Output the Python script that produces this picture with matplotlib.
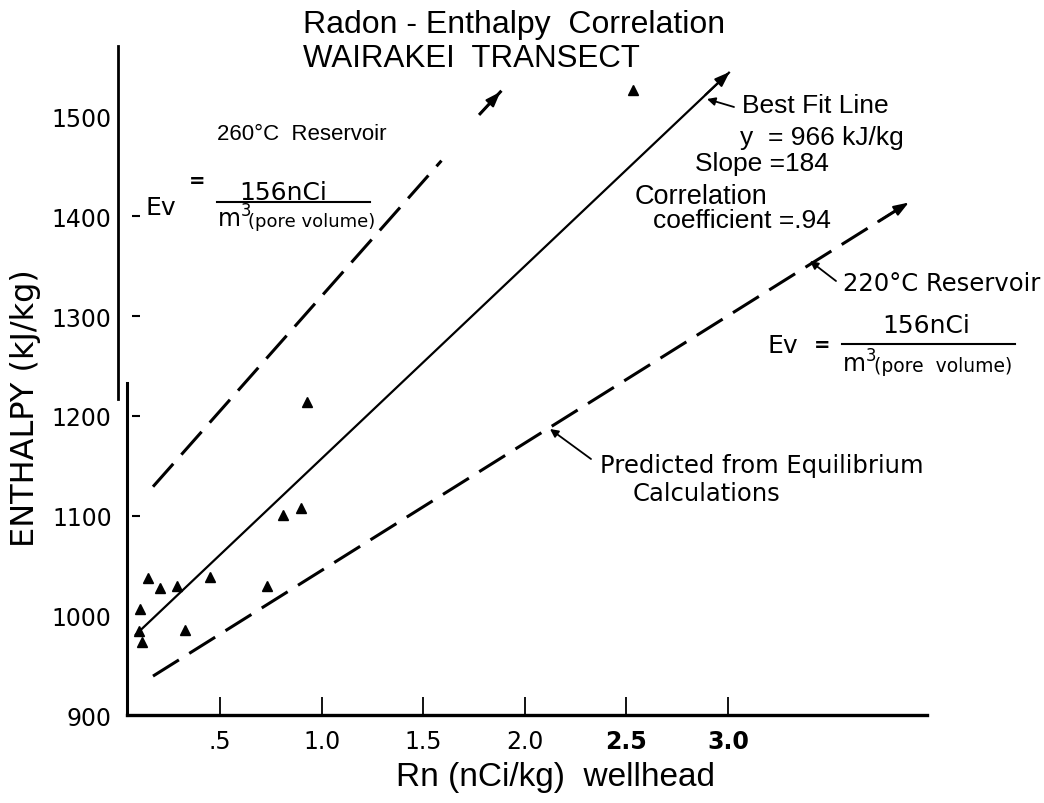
import matplotlib
matplotlib.use("Agg")
import matplotlib.pyplot as plt
from matplotlib.lines import Line2D
from matplotlib.transforms import blended_transform_factory

# measured wells (Rn nCi/kg, enthalpy kJ/kg)
rn = [0.146, 0.205, 0.288, 0.451, 0.106, 0.101, 0.116, 0.328, 0.731, 0.810, 0.898, 0.928, 2.532]
enth = [1037, 1027, 1029, 1038, 1006, 984, 973, 985, 1029, 1101, 1108, 1214, 1527]

# best fit line
fit_x = [0.082, 3.009]
fit_y = [980, 1545]
# 260 C reservoir (dashed, with separate arrow piece)
hot_x = [0.17, 1.59]
hot_y = [1129, 1456]
hot_tip_x = [1.78, 1.88]
hot_tip_y = [1503, 1525]
# 220 C reservoir
cool_x = [0.17, 3.89]
cool_y = [939, 1414]

xticks = [0.5, 1.0, 1.5, 2.0, 2.5, 3.0]
xlabels = [".5", "1.0", "1.5", "2.0", "2.5", "3.0"]
yticks = [900, 1000, 1100, 1200, 1300, 1400, 1500]
ymarks = [1100, 1200, 1300, 1400]

W, H = 1044, 804
fig = plt.figure(figsize=(W / 100, H / 100), dpi=100)
ax = fig.add_axes([127 / W, 1 - 716 / H, 800 / W, 669 / H])
ax.set_xlim(0.042, 3.98)
ax.set_ylim(903, 1571)

def px(x, y):
    return (x / W, 1 - y / H)

SANS = "Liberation Sans"
LET = "DejaVu Sans"

# lines
ax.plot(fit_x, fit_y, color="k", lw=1.6, solid_capstyle="butt")
ax.plot(hot_x, hot_y, color="k", lw=2.2, dashes=(10, 4))
ax.plot(hot_tip_x, hot_tip_y, color="k", lw=2.2)
ax.plot(cool_x, cool_y, color="k", lw=2.2, dashes=(10, 4))

arrow = dict(arrowstyle="-|>,head_length=0.5,head_width=0.18", color="k", lw=1.5,
             mutation_scale=18, shrinkA=0, shrinkB=0)
ax.annotate("", xy=(fit_x[1], fit_y[1]), xytext=(fit_x[1] - 0.12, fit_y[1] - 23), arrowprops=arrow)
ax.annotate("", xy=(hot_tip_x[1], hot_tip_y[1]), xytext=(hot_tip_x[0], hot_tip_y[0]), arrowprops=arrow)
ax.annotate("", xy=(cool_x[1], cool_y[1]), xytext=(cool_x[1] - 0.15, cool_y[1] - 19), arrowprops=arrow)

ax.plot(rn, enth, linestyle="none", marker="^", color="k", markersize=7.5)

# axes styling
for s in ["top", "right", "left"]:
    ax.spines[s].set_visible(False)
ax.spines["bottom"].set_linewidth(2.4)
ax.set_xticks(xticks, xlabels)
ax.tick_params(axis="x", direction="in", length=13, width=1.3, pad=10, labelsize=17)
for lab in ax.get_xticklabels():
    lab.set_family(LET)
    if lab.get_text() in ("2.5", "3.0"):
        lab.set_fontweight("bold")
ax.set_yticks(yticks, [str(v) for v in yticks])
ax.tick_params(axis="y", length=0, pad=11, labelsize=17)
for lab in ax.get_yticklabels():
    lab.set_family(LET)

# broken y axis (two offset pieces as in the scan)
ax.add_line(Line2D([0, 0], [0, 0.497], transform=ax.transAxes, color="k", lw=2.2, clip_on=False))
ax.add_line(Line2D([-0.011, -0.011], [0.472, 1.0], transform=ax.transAxes, color="k", lw=2.0, clip_on=False))
tr = blended_transform_factory(ax.transAxes, ax.transData)
ax.plot([0.011] * len(ymarks), ymarks, linestyle="none", marker="_", color="k",
        markersize=6, markeredgewidth=1.5, transform=tr, clip_on=False)

# titles
fig.text(*px(303, 25), "Radon - Enthalpy  Correlation", family=SANS, fontsize=23, va="center")
fig.text(*px(303, 59), "WAIRAKEI  TRANSECT", family=SANS, fontsize=22.5, va="center")

# axis labels
fig.text(*px(556, 778), "Rn (nCi/kg)  wellhead", family=SANS, fontsize=24, ha="center", va="center")
fig.text(*px(26, 408), "ENTHALPY (kJ/kg)", family=LET, fontsize=23, rotation=90, ha="center", va="center")

# 260 C note
fig.text(*px(217, 135), "260°C  Reservoir", family=SANS, fontsize=16, va="center")
fig.text(*px(145, 208), "Ev", family=LET, fontsize=18, va="center")
fig.text(*px(197, 181), "=", family=LET, fontsize=14, va="center", ha="center", fontweight="bold")
fig.text(*px(283, 193), "156nCi", family=LET, fontsize=18, va="center", ha="center")
fig.add_artist(Line2D([217 / W, 370 / W], [1 - 203 / H] * 2, color="k", lw=1.5))
fig.text(*px(217, 219), "m$^{3}$", family=LET, fontsize=17, va="center")
fig.text(*px(248, 222), "(pore volume)", family=LET, fontsize=13, va="center")

# best fit note
fig.text(*px(742, 106), "Best Fit Line", family=SANS, fontsize=19, va="center")
fig.text(*px(740, 138), "y  = 966 kJ/kg", family=SANS, fontsize=19, va="center")
fig.text(*px(695, 164), "Slope =184", family=SANS, fontsize=19, va="center")
fig.text(*px(635, 197), "Correlation", family=SANS, fontsize=19.5, va="center")
fig.text(*px(653, 221), "coefficient =.94", family=SANS, fontsize=19, va="center")
callout = dict(arrowstyle="-|>", color="k", lw=1.3, mutation_scale=12, shrinkA=0, shrinkB=0)
ax.annotate("", xy=px(707, 100), xytext=px(734, 108), xycoords="figure fraction",
            textcoords="figure fraction", arrowprops=callout)

# 220 C note
fig.text(*px(843, 284), "220°C Reservoir", family=LET, fontsize=17.5, va="center")
ax.annotate("", xy=px(810, 262), xytext=px(836, 282), xycoords="figure fraction",
            textcoords="figure fraction", arrowprops=callout)
fig.text(*px(767, 346), "Ev", family=LET, fontsize=18, va="center")
fig.text(*px(822, 346), "=", family=LET, fontsize=14, va="center", ha="center", fontweight="bold")
fig.text(*px(926, 326), "156nCi", family=LET, fontsize=18, va="center", ha="center")
fig.add_artist(Line2D([842 / W, 1015 / W], [1 - 345 / H] * 2, color="k", lw=1.5))
fig.text(*px(842, 364), "m$^{3}$", family=LET, fontsize=17, va="center")
fig.text(*px(874, 367), "(pore  volume)", family=LET, fontsize=13.5, va="center")

# equilibrium note
fig.text(*px(600, 466), "Predicted from Equilibrium", family=LET, fontsize=17.5, va="center")
fig.text(*px(633, 494), "Calculations", family=LET, fontsize=17.5, va="center")
ax.annotate("", xy=px(550, 430), xytext=px(591, 460), xycoords="figure fraction",
            textcoords="figure fraction", arrowprops=callout)

fig.savefig("out.png", dpi=100)
